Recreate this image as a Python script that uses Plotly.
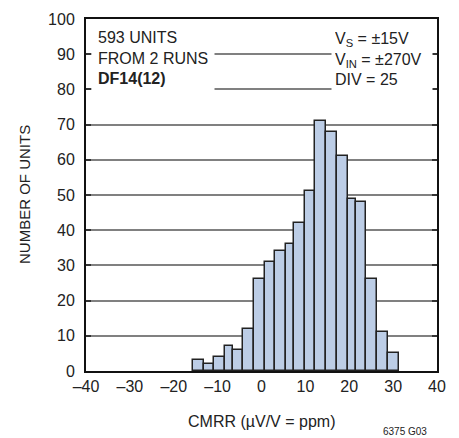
import plotly.graph_objects as go

# Histogram bin edges (CMRR, ppm) and counts
bin_edges = [-15.7, -13.2, -10.83, -8.41, -6.5, -4.15, -1.8, 0.71, 3.15, 5.58, 7.36,
             9.82, 12.26, 14.77, 17.21, 19.72, 21.45, 23.89, 26.39, 28.83, 31.25]
counts = [3, 2, 4, 7, 6, 12, 26, 31, 34, 36, 42, 51, 71, 68, 61, 49, 48, 26, 11, 5]

x_ticks = [-40, -30, -20, -10, 0, 10, 20, 30, 40]
y_ticks = [0, 10, 20, 30, 40, 50, 60, 70, 80, 90, 100]

lefts = bin_edges[:-1]
widths = [b - a for a, b in zip(bin_edges[:-1], bin_edges[1:])]

FONT = "Liberation Sans, Arial, sans-serif"
FS = 16

fig = go.Figure()
fig.add_trace(go.Bar(
    x=lefts, y=counts, width=widths, offset=0,
    marker=dict(color="#bccde6", line=dict(color="#222", width=1.5)),
    hoverinfo="skip",
))

# the page body adds an 8px margin, so the figure is sized 451x430
fig.update_layout(
    width=451, height=430,
    margin=dict(l=78, r=22, t=11, b=67, autoexpand=False),
    paper_bgcolor="white", plot_bgcolor="white",
    showlegend=False,
    font=dict(family=FONT, size=FS, color="#222"),
    bargap=0,
)
fig.update_xaxes(
    range=[-40, 40], tickvals=x_ticks,
    ticktext=[("\u2013" + str(-v)) if v < 0 else str(v) for v in x_ticks],
    showgrid=False, zeroline=False, automargin=False,
    showline=True, linecolor="#111", linewidth=2, mirror=True,
    ticks="", tickfont=dict(size=FS),
)
fig.update_yaxes(
    range=[0, 100], tickvals=y_ticks, automargin=False,
    showgrid=True, gridcolor="#808080", gridwidth=1.5, zeroline=False,
    showline=True, linecolor="#111", linewidth=2, mirror="ticks",
    ticks="inside", ticklen=5, tickcolor="#333", tickwidth=1.5,
    tickfont=dict(size=FS), ticklabelstandoff=6,
)

# axis titles
fig.add_annotation(
    xref="paper", yref="paper", x=0.5, y=0, xanchor="center", yanchor="middle",
    yshift=-50, text="CMRR (\u00b5V/V = ppm)", showarrow=False, font=dict(size=FS),
)
fig.add_annotation(
    xref="paper", yref="paper", x=0, y=0.5, xanchor="center", yanchor="middle",
    xshift=-62, textangle=-90, text="NUMBER OF UNITS", showarrow=False,
    font=dict(size=15),
)

fig.add_annotation(
    xref="paper", yref="paper", x=0, y=1, xanchor="left", yanchor="top",
    xshift=5, yshift=-2,
    text="593 UNITS<br>FROM 2 RUNS<br><b>DF14(12)</b>",
    align="left", valign="middle", showarrow=False,
    bgcolor="white", borderpad=6, width=110, height=60,
    font=dict(size=FS),
)
fig.add_annotation(
    xref="paper", yref="paper", x=1, y=1, xanchor="right", yanchor="top",
    xshift=-4, yshift=-2,
    text="V<sub>S</sub> = \u00b115V<br>V<sub>IN</sub> = \u00b1270V<br>DIV = 25",
    align="left", valign="middle", showarrow=False,
    bgcolor="white", borderpad=3, width=94, height=68,
    font=dict(size=FS),
)
fig.add_annotation(
    xref="paper", yref="paper", x=1, y=0, xanchor="right", yanchor="middle",
    xshift=-8, yshift=-60,
    text="6375 G03", showarrow=False, font=dict(size=10),
)

fig.write_html("out.html")
